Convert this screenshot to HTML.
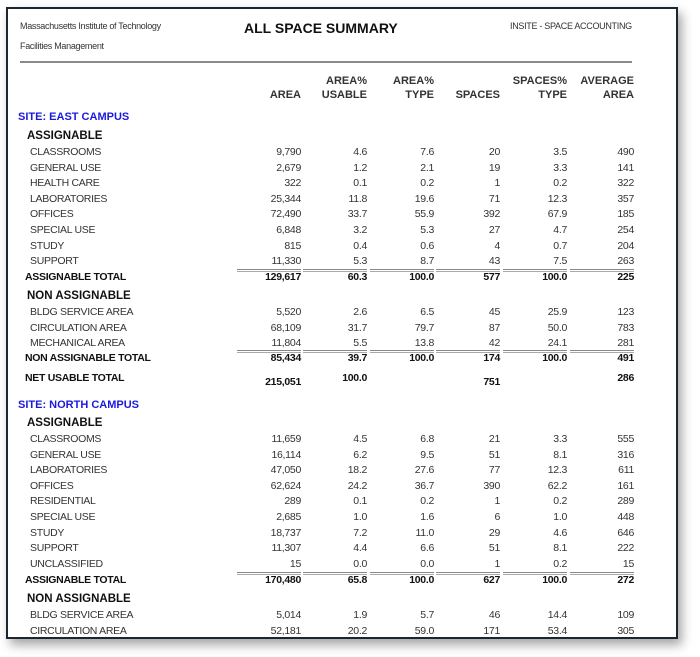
<!DOCTYPE html>
<html><head><meta charset="utf-8">
<style>
html,body{margin:0;padding:0;background:#fff;}
body{width:700px;height:657px;position:relative;overflow:hidden;font-family:"Liberation Sans Narrow","Liberation Sans",sans-serif;color:#222;}
#frame{position:absolute;left:6px;top:7px;width:668px;height:628px;border:2px solid #1c2630;background:#fff;box-shadow:4px 6px 10px rgba(0,0,0,0.35);}
.t{position:absolute;white-space:nowrap;font-size:10.5px;line-height:12px;letter-spacing:-0.3px;color:#333;}
.r{text-align:right;width:70px;}
.b{font-weight:bold;color:#111;}
.site{color:#1a1adf;font-weight:bold;font-size:11px;font-family:"Liberation Sans",sans-serif;letter-spacing:0;}
.sec{font-weight:bold;font-size:11.5px;font-family:"Liberation Sans",sans-serif;color:#111;letter-spacing:0;}
.hd{font-weight:bold;font-size:11px;font-family:"Liberation Sans",sans-serif;text-align:right;width:70px;color:#333;line-height:14px;letter-spacing:0;}
.ln{position:absolute;height:1px;border-top:1px solid #888;border-bottom:1px solid #aaa;}
</style></head><body>
<div id="frame"></div>
<div class="t" style="left:20px;top:20px;font-size:9px;">Massachusetts Institute of Technology</div>
<div class="t" style="left:20px;top:40px;font-size:9px;">Facilities Management</div>
<div class="t b" style="left:244px;top:22px;font-size:14px;font-family:'Liberation Sans',sans-serif;color:#111;letter-spacing:0;">ALL SPACE SUMMARY</div>
<div class="t" style="left:510px;top:20px;font-size:9px;">INSITE - SPACE ACCOUNTING</div>
<div style="position:absolute;left:20px;top:61px;width:612px;height:2px;background:#8a8a8a;"></div>
<div id="rows"></div>
<script>
const colRight=[301,367,434,500,567,634];
const headers=[["","AREA"],["AREA%","USABLE"],["AREA%","TYPE"],["","SPACES"],["SPACES%","TYPE"],["AVERAGE","AREA"]];
const eastAssignLabels=["CLASSROOMS","GENERAL USE","HEALTH CARE","LABORATORIES","OFFICES","SPECIAL USE","STUDY","SUPPORT"];
const eastAssignValues=[["9,790","4.6","7.6","20","3.5","490"],["2,679","1.2","2.1","19","3.3","141"],["322","0.1","0.2","1","0.2","322"],["25,344","11.8","19.6","71","12.3","357"],["72,490","33.7","55.9","392","67.9","185"],["6,848","3.2","5.3","27","4.7","254"],["815","0.4","0.6","4","0.7","204"],["11,330","5.3","8.7","43","7.5","263"]];
const eastAssignTotal=["129,617","60.3","100.0","577","100.0","225"];
const eastNonLabels=["BLDG SERVICE AREA","CIRCULATION AREA","MECHANICAL AREA"];
const eastNonValues=[["5,520","2.6","6.5","45","25.9","123"],["68,109","31.7","79.7","87","50.0","783"],["11,804","5.5","13.8","42","24.1","281"]];
const eastNonTotal=["85,434","39.7","100.0","174","100.0","491"];
const eastNetTotal=["215,051","100.0","","751","","286"];
const northAssignLabels=["CLASSROOMS","GENERAL USE","LABORATORIES","OFFICES","RESIDENTIAL","SPECIAL USE","STUDY","SUPPORT","UNCLASSIFIED"];
const northAssignValues=[["11,659","4.5","6.8","21","3.3","555"],["16,114","6.2","9.5","51","8.1","316"],["47,050","18.2","27.6","77","12.3","611"],["62,624","24.2","36.7","390","62.2","161"],["289","0.1","0.2","1","0.2","289"],["2,685","1.0","1.6","6","1.0","448"],["18,737","7.2","11.0","29","4.6","646"],["11,307","4.4","6.6","51","8.1","222"],["15","0.0","0.0","1","0.2","15"]];
const northAssignTotal=["170,480","65.8","100.0","627","100.0","272"];
const northNonLabels=["BLDG SERVICE AREA","CIRCULATION AREA"];
const northNonValues=[["5,014","1.9","5.7","46","14.4","109"],["52,181","20.2","59.0","171","53.4","305"]];

const root=document.getElementById('rows');
function txt(cls,left,top,s,name){const d=document.createElement('div');d.className='t '+cls;d.style.left=left+'px';d.style.top=top+'px';d.textContent=s;


root.appendChild(d);return d;}
function slug(s){return s.toLowerCase().replace(/[^a-z0-9]+/g,'-').replace(/-$/,'');}
headers.forEach((h,i)=>{txt('hd',colRight[i]-70,74,h[0],'column-header-'+i+'-top');txt('hd',colRight[i]-70,88,h[1],'column-header-'+i);});
function dataRow(label,vals,y,bold,pre){
  txt(bold?'b':'',bold?25:30,y-6,label,pre+'-'+slug(label)+'-label');
  vals.forEach((v,i)=>{if(v!=='')txt('r'+(bold?' b':''),colRight[i]-70,y-6,v,pre+'-'+slug(label)+'-col'+i);});
}
function rule(y,name){colRight.forEach((r,i)=>{const l=document.createElement('div');l.className='ln';l.style.left=(r-64)+'px';l.style.width='64px';l.style.top=y+'px';


root.appendChild(l);});}
const step=15.6;
txt('site',18,111,'SITE: EAST CAMPUS','site-east-campus');
txt('sec',27,130,'ASSIGNABLE','east-assignable-heading');
eastAssignLabels.forEach((l,i)=>dataRow(l,eastAssignValues[i],152+i*step,false,'east'));
rule(269,'east-assignable-rule');
dataRow('ASSIGNABLE TOTAL',eastAssignTotal,277,true,'east');
txt('sec',27,290,'NON ASSIGNABLE','east-non-assignable-heading');
eastNonLabels.forEach((l,i)=>dataRow(l,eastNonValues[i],312+i*step,false,'east-non'));
rule(350,'east-non-assignable-rule');
dataRow('NON ASSIGNABLE TOTAL',eastNonTotal,358,true,'east');
txt('b',25,372,'NET USABLE TOTAL','east-net-usable-label');
eastNetTotal.forEach((v,i)=>{if(v!=='')txt('r b',colRight[i]-70,(i===1||i===5)?372:376,v,'east-net-usable-col'+i);});
txt('site',18,399,'SITE: NORTH CAMPUS','site-north-campus');
txt('sec',27,417,'ASSIGNABLE','north-assignable-heading');
northAssignLabels.forEach((l,i)=>dataRow(l,northAssignValues[i],439+i*step,false,'north'));
rule(572,'north-assignable-rule');
dataRow('ASSIGNABLE TOTAL',northAssignTotal,580,true,'north');
txt('sec',27,593,'NON ASSIGNABLE','north-non-assignable-heading');
northNonLabels.forEach((l,i)=>dataRow(l,northNonValues[i],615+i*step,false,'north-non'));
</script>
</body></html>
